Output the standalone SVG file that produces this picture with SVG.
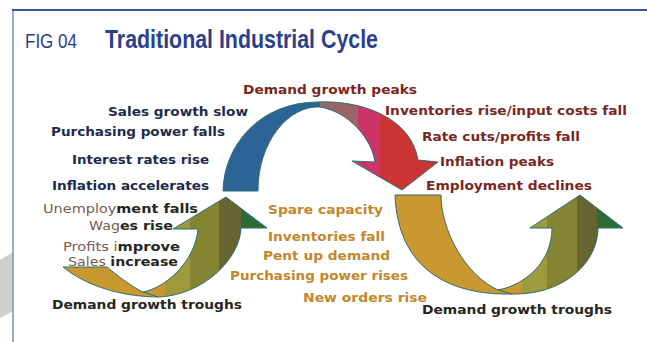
<svg xmlns="http://www.w3.org/2000/svg" width="647" height="342" viewBox="0 0 647 342">
  <style>
    .title { font-family: "Liberation Sans", Arial, sans-serif; fill: #2b3f8e; }
    .lbl { font-family: "DejaVu Sans", Verdana, sans-serif; font-size: 12.5px; font-weight: bold; }
    .navy { fill: #1d2b4d; }
    .red { fill: #7b2620; }
    .orange { fill: #c4862a; }
    .dark { fill: #26261e; }
    .soft { font-weight: normal; fill: #7a5a4f; }
    .outline { fill: none; stroke: #2b7173; stroke-width: 1; stroke-linejoin: round; }
  </style>
  <defs>
    <!-- arrow silhouettes, reused for clipping and outline -->
    <path id="arcTop" d="M223,191 C224,145 260,102 318,102 C365,100 412,120 418,160 L438,162 L402,190 L352,161 L375,162 C372,140 350,112 320,107 C290,105 258,140 258,191 Z"/>
    <path id="swooshLeft" d="M63,267 L107,267 C118,276 132,287 143,292 C165,288 195,262 198,229 L173,229 L226,197 L267,228 L241,228 C240,258 205,294 160,297 C120,297 85,285 63,267 Z"/>
    <path id="swooshRight" d="M395,195 L441,195 C441,230 465,275 498,290 C525,285 552,262 552,228 L530,228 L580,195 L623,228 L598,228 C598,262 565,294 515,294 C450,296 398,270 395,195 Z"/>
    <clipPath id="clipTop"><use href="#arcTop"/></clipPath>
    <clipPath id="clipLeft"><use href="#swooshLeft"/></clipPath>
    <clipPath id="clipRight"><use href="#swooshRight"/></clipPath>
  </defs>

  <rect width="647" height="342" fill="#ffffff"/>
  <!-- page edge shading and frame -->
  <polygon points="0,260 13,252 13,311 0,318" fill="#cfcfcf"/>
  <line x1="13" y1="10" x2="13" y2="342" stroke="#7d8fd0" stroke-width="1.5"/>
  <line x1="12" y1="10" x2="647" y2="10" stroke="#3b55a5" stroke-width="2"/>

  <g id="title">
    <text class="title" x="25" y="48" font-size="20" textLength="52" lengthAdjust="spacingAndGlyphs">FIG 04</text>
    <text class="title" x="105" y="48" font-size="25" font-weight="bold" textLength="273" lengthAdjust="spacingAndGlyphs">Traditional Industrial Cycle</text>
  </g>

  <g id="connectors">
    <g id="arrow-peak">
      <g clip-path="url(#clipTop)">
        <rect x="200" y="90" width="120" height="110" fill="#2d6496"/>
        <rect x="320" y="90" width="38" height="110" fill="#9b6566"/>
        <rect x="358" y="90" width="22" height="110" fill="#cc3366"/>
        <rect x="380" y="90" width="70" height="110" fill="#cc3333"/>
      </g>
      <use href="#arcTop" class="outline"/>
    </g>
    <g id="arrow-trough-left">
      <g clip-path="url(#clipLeft)">
        <rect x="50" y="190" width="115" height="120" fill="#c9982e"/>
        <rect x="165" y="190" width="25" height="120" fill="#9c9a3b"/>
        <rect x="190" y="190" width="29" height="120" fill="#848433"/>
        <rect x="219" y="190" width="22" height="120" fill="#666430"/>
        <rect x="241" y="190" width="40" height="120" fill="#2e6a36"/>
      </g>
      <use href="#swooshLeft" class="outline"/>
      <line x1="143" y1="292" x2="158" y2="297" class="outline"/>
    </g>
    <g id="arrow-trough-right">
      <g clip-path="url(#clipRight)">
        <rect x="385" y="185" width="137" height="120" fill="#c9982e"/>
        <rect x="522" y="185" width="25" height="120" fill="#9c9a3b"/>
        <rect x="547" y="185" width="30" height="120" fill="#848433"/>
        <rect x="577" y="185" width="20" height="120" fill="#666430"/>
        <rect x="597" y="185" width="40" height="120" fill="#2e6a36"/>
      </g>
      <use href="#swooshRight" class="outline"/>
      <line x1="498" y1="290" x2="512" y2="294" class="outline"/>
    </g>
  </g>

  <!-- rising phase labels -->
  <g id="sales-growth-slow"><text class="lbl navy" x="108" y="116" textLength="140" lengthAdjust="spacingAndGlyphs">Sales growth slow</text></g>
  <g id="purchasing-power-falls"><text class="lbl navy" x="51" y="136" textLength="174" lengthAdjust="spacingAndGlyphs">Purchasing power falls</text></g>
  <g id="interest-rates-rise"><text class="lbl navy" x="72" y="164" textLength="137" lengthAdjust="spacingAndGlyphs">Interest rates rise</text></g>
  <g id="inflation-accelerates"><text class="lbl navy" x="52" y="190" textLength="157" lengthAdjust="spacingAndGlyphs">Inflation accelerates</text></g>

  <!-- peak labels -->
  <g id="demand-growth-peaks"><text class="lbl red" x="243" y="94" textLength="174" lengthAdjust="spacingAndGlyphs">Demand growth peaks</text></g>
  <g id="inventories-rise"><text class="lbl red" x="385" y="115" textLength="242" lengthAdjust="spacingAndGlyphs">Inventories rise/input costs fall</text></g>
  <g id="rate-cuts"><text class="lbl red" x="422" y="141" textLength="158" lengthAdjust="spacingAndGlyphs">Rate cuts/profits fall</text></g>
  <g id="inflation-peaks"><text class="lbl red" x="440" y="166" textLength="114" lengthAdjust="spacingAndGlyphs">Inflation peaks</text></g>
  <g id="employment-declines"><text class="lbl red" x="426" y="190" textLength="166" lengthAdjust="spacingAndGlyphs">Employment declines</text></g>

  <!-- recovery labels -->
  <g id="spare-capacity"><text class="lbl orange" x="268" y="214" textLength="115" lengthAdjust="spacingAndGlyphs">Spare capacity</text></g>
  <g id="inventories-fall"><text class="lbl orange" x="268" y="241" textLength="117" lengthAdjust="spacingAndGlyphs">Inventories fall</text></g>
  <g id="pent-up-demand"><text class="lbl orange" x="263" y="260" textLength="127" lengthAdjust="spacingAndGlyphs">Pent up demand</text></g>
  <g id="purchasing-power-rises"><text class="lbl orange" x="230" y="280" textLength="178" lengthAdjust="spacingAndGlyphs">Purchasing power rises</text></g>
  <g id="new-orders-rise"><text class="lbl orange" x="303" y="302" textLength="124" lengthAdjust="spacingAndGlyphs">New orders rise</text></g>

  <!-- trough labels -->
  <g id="unemployment-falls"><text class="lbl dark" x="43" y="213" textLength="155" lengthAdjust="spacingAndGlyphs"><tspan class="soft">Unemploy</tspan>ment falls</text></g>
  <g id="wages-rise"><text class="lbl dark" x="89" y="230" textLength="84" lengthAdjust="spacingAndGlyphs"><tspan class="soft">Wag</tspan>es rise</text></g>
  <g id="profits-improve"><text class="lbl dark" x="63" y="251" textLength="117" lengthAdjust="spacingAndGlyphs"><tspan class="soft">Profits i</tspan>mprove</text></g>
  <g id="sales-increase"><text class="lbl dark" x="68" y="266" textLength="110" lengthAdjust="spacingAndGlyphs"><tspan class="soft">Sales </tspan>increase</text></g>
  <g id="demand-growth-troughs-left"><text class="lbl dark" x="52" y="309" textLength="190" lengthAdjust="spacingAndGlyphs">Demand growth troughs</text></g>
  <g id="demand-growth-troughs-right"><text class="lbl dark" x="422" y="314" textLength="190" lengthAdjust="spacingAndGlyphs">Demand growth troughs</text></g>
</svg>
